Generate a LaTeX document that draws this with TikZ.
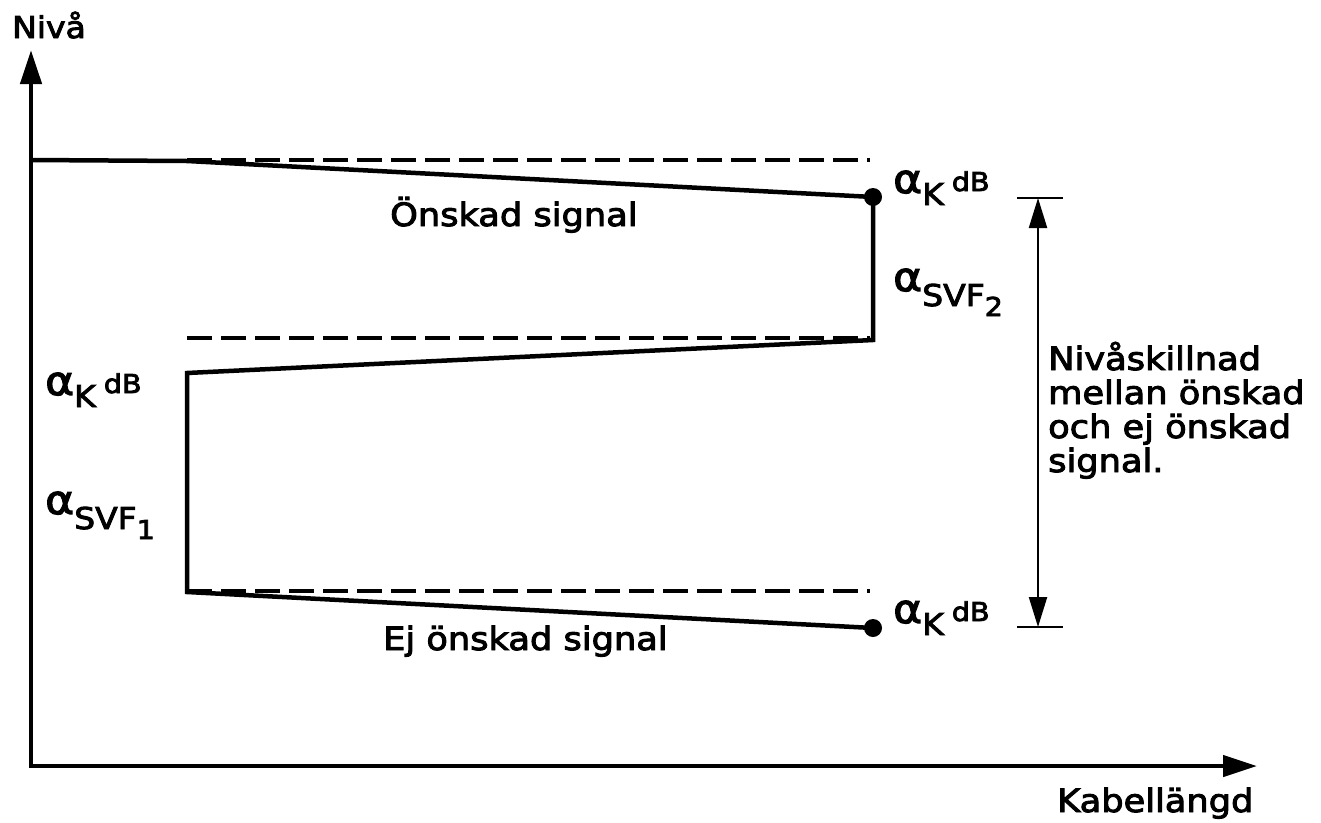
\documentclass[tikz,border=0pt]{standalone}
\usepackage{fontspec}
\setmainfont{DejaVu Sans}[FakeStretch=1.1,FakeBold=3]
\usetikzlibrary{arrows.meta}
\newcommand\alfa{{\fontsize{40}{40}\selectfont α}}
\newcommand\fsK{\fontsize{30}{30}\selectfont}
\newcommand\fsdB{\fontsize{26}{26}\selectfont}
\newcommand\akdb{\alfa\lower12pt\hbox{\fsK K}\hspace{8pt}\raise2pt\hbox{\fsdB dB}}
\newcommand\asvf[1]{\alfa\lower15pt\hbox{\fsK SVF\lower10pt\hbox{\fsdB #1}}}
\begin{document}
\begin{tikzpicture}[x=1pt,y=-1pt,
  axis/.style={line width=4.5pt,-{Triangle[length=34pt,width=21pt]}},
  sig/.style={line width=4.5pt,line join=miter},
  refl/.style={line width=3.5pt,dash pattern=on 25pt off 9pt},
  dim/.style={line width=2.2pt},
  dimarrow/.style={dim,{Triangle[length=30pt,width=18pt]}-{Triangle[length=30pt,width=18pt]}},
  lbl/.style={inner sep=0pt,anchor=base west,font=\fontsize{32}{34}\selectfont},
  dot/.style={circle,fill,inner sep=0pt,minimum size=18pt}]
\useasboundingbox (0,0) rectangle (1321,822);
% axes
\coordinate (O) at (31,766);
\coordinate (Obot) at (31,768);
\coordinate (Oleft) at (29,766);
\coordinate (Ytip) at (31,50);
\coordinate (Xtip) at (1257,766);
\draw[axis] (Obot) -- (Ytip);
\draw[axis] (Oleft) -- (Xtip);
% reference (dashed) levels
\coordinate (R1a) at (187,160); \coordinate (R1b) at (870,160);
\coordinate (R2a) at (187,338); \coordinate (R2b) at (870,338);
\coordinate (R3a) at (187,591); \coordinate (R3b) at (870,591);
\draw[refl] (R1a) -- (R1b);
\draw[refl] (R2a) -- (R2b);
\draw[refl] (R3a) -- (R3b);
% signal path
\coordinate (A) at (31,160);
\coordinate (B) at (187,161);
\node[dot] (C) at (873,197) {};
\coordinate (D) at (873,340);
\coordinate (E) at (187,373);
\coordinate (F) at (187,592);
\node[dot] (G) at (873,628) {};
\draw[sig] (A) -- (B) -- (C.center) -- (D) -- (E) -- (F) -- (G.center);
% dimension
\coordinate (T1) at (1038,198);
\coordinate (T2) at (1038,627);
\coordinate (T1a) at (1017,198); \coordinate (T1b) at (1063,198);
\coordinate (T2a) at (1017,627); \coordinate (T2b) at (1063,627);
\draw[dim] (T1a) -- (T1b);
\draw[dim] (T2a) -- (T2b);
\draw[dimarrow] (T1) -- (T2);
% labels
\node[lbl,font=\fontsize{30}{32}\selectfont] (niva) at (12,38) {Nivå};
\node[lbl] (kabel) at (1057,812) {Kabellängd};
\node[lbl] (onsk) at (390,226) {Önskad signal};
\node[lbl] (ejonsk) at (383,650) {Ej önskad signal};
\node[lbl] (ak1) at (893,193) {\akdb};
\node[lbl] (ak2) at (45,395) {\akdb};
\node[lbl] (ak3) at (893,623) {\akdb};
\node[lbl] (svf2) at (893,291) {\asvf{2}};
\node[lbl] (svf1) at (45,514) {\asvf{1}};
\node[lbl,align=left] (diff) at (1048,472) {Nivåskillnad\\mellan önskad\\och ej önskad\\signal.};
\end{tikzpicture}
\end{document}
